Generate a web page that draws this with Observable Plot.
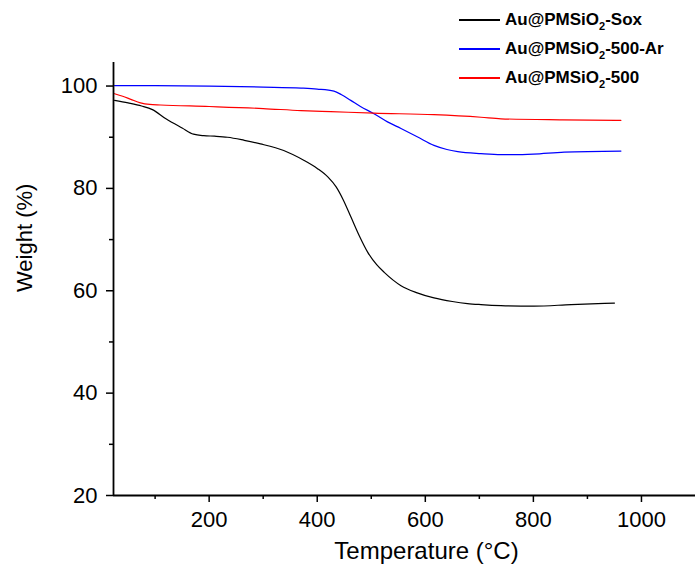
<!DOCTYPE html>
<html>
<head>
<meta charset="utf-8">
<script src="https://cdn.jsdelivr.net/npm/d3@7"></script>
<script src="https://cdn.jsdelivr.net/npm/@observablehq/plot@0.6"></script>
<style>
  html, body { margin: 0; padding: 0; background: #fff; }
  #wrap { position: relative; width: 695px; height: 575px; font-family: "Liberation Sans", Arial, sans-serif; }
  #legend { position: absolute; left: 0; top: 0; }
  .item { position: absolute; left: 459px; height: 20px; display: flex; align-items: center; white-space: nowrap; }
  .swatch { width: 41px; height: 1.3px; margin-right: 5px; }
  .lab { font-weight: bold; font-size: 17px; color: #000; }
  .lab sub { font-size: 11px; vertical-align: -5px; line-height: 0; }
</style>
</head>
<body>
<div id="wrap"><div id="legend"></div></div>
<script>
// Series names & colours
const seriesNames = ["Au@PMSiO2-Sox", "Au@PMSiO2-500-Ar", "Au@PMSiO2-500"];
const seriesColors = ["#000000", "#0000ff", "#ff0000"];

// Au@PMSiO2-Sox
const soxT = [25, 50, 75, 95, 120, 150, 171, 190, 210, 234, 265, 295, 338, 375, 400, 420, 435, 448, 462, 478, 493, 510, 524, 555, 585, 616, 650, 678, 703, 740, 801, 870, 950];
const soxW = [97.2, 96.7, 96.1, 95.4, 93.6, 91.8, 90.6, 90.3, 90.2, 90.0, 89.4, 88.7, 87.4, 85.5, 83.9, 82.2, 80.3, 77.8, 74.5, 70.7, 67.6, 65.1, 63.6, 61.0, 59.6, 58.6, 57.9, 57.5, 57.3, 57.1, 57.0, 57.3, 57.6];

// Au@PMSiO2-500-Ar
const arT = [25, 100, 200, 300, 370, 400, 431, 445, 462, 480, 505, 530, 555, 585, 616, 640, 660, 703, 740, 764, 800, 857, 962];
const arW = [100.1, 100.1, 100.0, 99.8, 99.6, 99.4, 99.0, 98.3, 97.2, 96.0, 94.6, 93.0, 91.7, 90.1, 88.4, 87.6, 87.2, 86.8, 86.6, 86.6, 86.7, 87.1, 87.3];

// Au@PMSiO2-500
const airT = [25, 40, 55, 73, 90, 110, 200, 300, 370, 425, 505, 616, 703, 740, 854, 962];
const airW = [98.5, 98.0, 97.4, 96.7, 96.4, 96.3, 96.0, 95.6, 95.2, 95.0, 94.7, 94.4, 93.9, 93.6, 93.4, 93.3];

// Ticks
const xMajor = [200, 400, 600, 800, 1000];
const xMinor = [100, 300, 500, 700, 900];
const yMajor = [20, 40, 60, 80, 100];
const yMinor = [30, 50, 70, 90];

const rows = [];
[[soxT, soxW], [arT, arW], [airT, airW]].forEach(([T, W], i) => {
  T.forEach((t, j) => rows.push({series: seriesNames[i], t, w: W[j]}));
});

const xDom = [23, 1100];
const yDom = [20, 104.6];

const chart = Plot.plot({
  width: 695,
  height: 575,
  marginLeft: 113,
  marginRight: 0,
  marginTop: 62,
  marginBottom: 80,
  style: {fontFamily: "'Liberation Sans', Arial, sans-serif", background: "#fff", color: "#000"},
  x: {domain: xDom},
  y: {domain: yDom},
  color: {domain: seriesNames, range: seriesColors},
  marks: [
    Plot.line(rows, {x: "t", y: "w", z: "series", stroke: "series", strokeWidth: 1.2, curve: "monotone-x"}),
    Plot.axisX(xMajor, {tickSize: 7, tickPadding: 9, fontSize: 22, tickFormat: d => String(d), label: null, strokeWidth: 1.5}),
    Plot.axisX(xMinor, {tickSize: 4, text: null, label: null, strokeWidth: 1.5}),
    Plot.axisY(yMajor, {tickSize: 7, tickPadding: 9, fontSize: 22, tickFormat: d => String(d), label: null, strokeWidth: 1.5}),
    Plot.axisY(yMinor, {tickSize: 4, text: null, label: null, strokeWidth: 1.5}),
    Plot.ruleX([xDom[0]], {strokeWidth: 1.8}),
    Plot.ruleY([yDom[0]], {strokeWidth: 1.8}),
    Plot.text(["Weight (%)"], {frameAnchor: "left", text: d => d, rotate: -90, dx: -89, dy: 13, fontSize: 22}),
    Plot.text(["Temperature (°C)"], {frameAnchor: "bottom", text: d => d, dx: 22, dy: 63, fontSize: 24})
  ]
});
document.getElementById("wrap").prepend(chart);

const legend = document.getElementById("legend");
const legendY = [20, 49, 78];
seriesNames.forEach((name, i) => {
  const item = document.createElement("div");
  item.className = "item";
  item.style.top = (legendY[i] - 10) + "px";
  const sw = document.createElement("div");
  sw.className = "swatch";
  sw.style.backgroundColor = seriesColors[i];
  const lab = document.createElement("span");
  lab.className = "lab";
  const parts = name.split("O2");
  lab.innerHTML = parts[0] + "O<sub>2</sub>" + parts[1];
  item.appendChild(sw);
  item.appendChild(lab);
  legend.appendChild(item);
});
</script>
</body>
</html>
